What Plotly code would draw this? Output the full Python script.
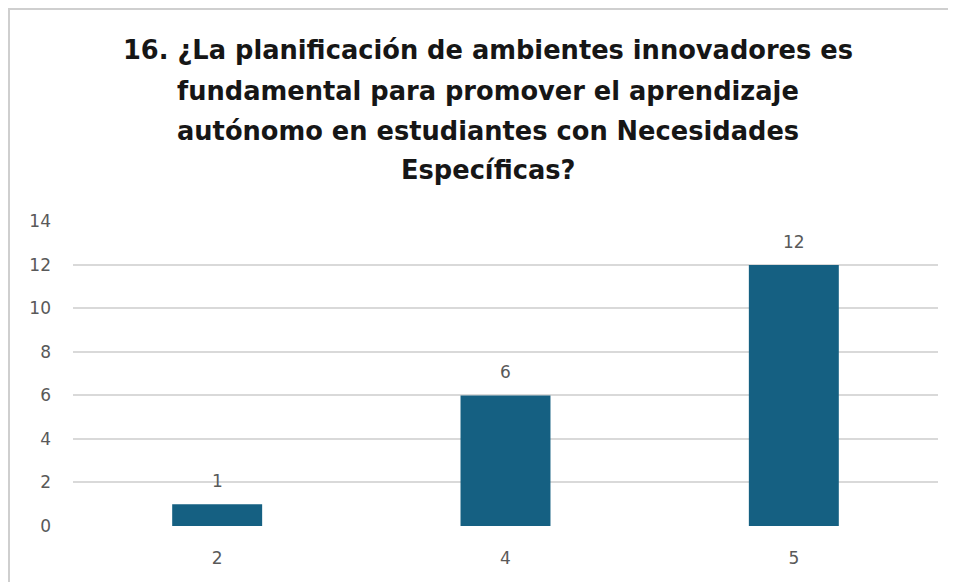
import plotly.graph_objects as go

categories = ["2", "4", "5"]
values = [1, 6, 12]
y_ticks = [0, 2, 4, 6, 8, 10, 12, 14]
title_lines = [
    "16. ¿La planificación de ambientes innovadores es",
    "fundamental para promover el aprendizaje",
    "autónomo en estudiantes con Necesidades",
    "Específicas?",
]

TFONT = "DejaVu Sans"
FONT = "DejaVu Sans"
BAR = "#156082"
GRAY = "#595959"

# Page body has an 8px margin; figure coordinates = reference pixels - 8
W, HT = 948, 574
L, R, T, B = 65, 18, 213, 56
PW = W - L - R
PH = HT - T - B

def px(xp):
    return (xp - L) / PW

def py(yp):
    return (HT - B - yp) / PH

fig = go.Figure()
fig.add_trace(go.Bar(
    x=categories, y=values,
    marker=dict(color=BAR, line=dict(width=0)),
    width=0.312, hoverinfo="x+y",
))

annotations = []
for i, v in enumerate(values):
    annotations.append(dict(
        x=i, y=v, xref="x", yref="y", text=str(v), showarrow=False,
        yanchor="bottom", yshift=11,
        font=dict(family=FONT, size=17, color=GRAY),
    ))

title_y_px = [42, 83, 123, 162]
for line, yp in zip(title_lines, title_y_px):
    annotations.append(dict(
        text="<b>" + line + "</b>", x=px(480), xref="paper", yref="paper",
        y=py(yp), yanchor="middle", xanchor="center",
        showarrow=False, font=dict(family=TFONT, size=25.7, color="#161616"),
    ))

fig.update_layout(
    width=W, height=HT,
    margin=dict(l=L, r=R, t=T, b=B, pad=0),
    paper_bgcolor="white", plot_bgcolor="white",
    showlegend=False,
    annotations=annotations,
    xaxis=dict(type="category", range=[-0.5, len(categories) - 0.5],
               showgrid=False, zeroline=False, showline=False,
               tickfont=dict(family=FONT, size=17, color=GRAY), ticks="",
               ticklabelstandoff=20),
    yaxis=dict(range=[0, 14.02], tickvals=y_ticks, showgrid=True, gridcolor="#d9d9d9",
               gridwidth=1.5, zeroline=False, showline=False,
               tickfont=dict(family=FONT, size=17, color=GRAY), ticks="",
               ticklabelstandoff=21),
    shapes=[
        dict(type="line", xref="paper", yref="paper",
             x0=px(0), x1=px(W), y0=py(1), y1=py(1),
             line=dict(color="#cfcfcf", width=2)),
        dict(type="line", xref="paper", yref="paper",
             x0=px(1), x1=px(1), y0=py(1), y1=py(HT),
             line=dict(color="#cfcfcf", width=2)),
    ],
)

fig.write_html("out.html")
